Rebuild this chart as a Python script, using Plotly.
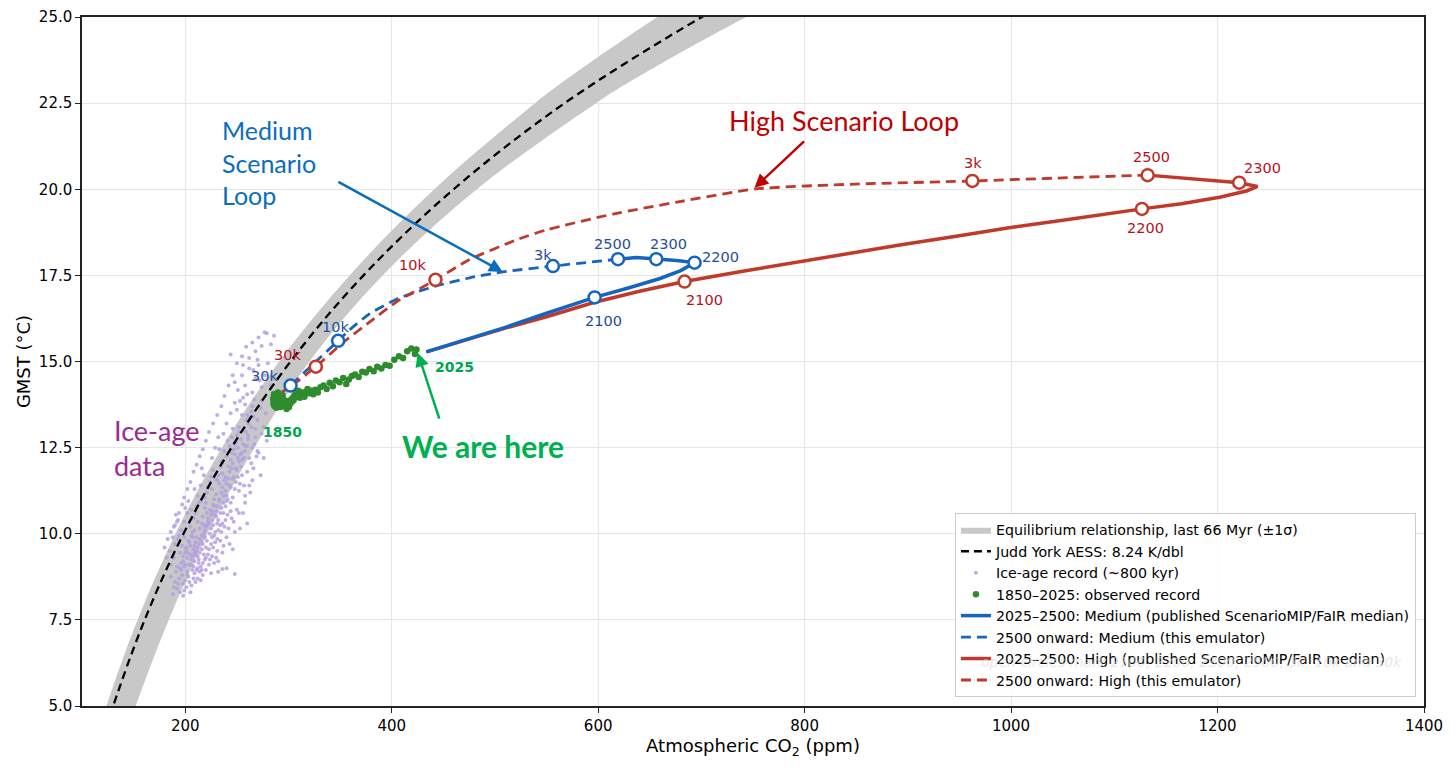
import plotly.graph_objects as go

# ---- data ----
# equilibrium band (last 66 Myr, +-1 sigma): CO2 at left/right edge for each GMST level
band_t = [4, 5, 7.5, 10, 12.5, 15, 17.5, 20, 22.5, 23.25, 25, 26]
band_lo_co2 = [113.7, 123.7, 153.8, 190.5, 235.5, 290.9, 359.2, 441.3, 538.8, 572, 657.5, 712]
band_hi_co2 = [141.0, 152.1, 184.0, 221.6, 267.0, 320.3, 391.2, 482.5, 597.9, 638, 743.5, 812.7]

# Judd York AESS, 8.24 K per doubling
jy_co2 = [119.8, 130.2, 160.7, 198.3, 244.8, 302.0, 372.7, 460.0, 567.6, 700.4, 762]
jy_t = [4, 5, 7.5, 10, 12.5, 15, 17.5, 20, 22.5, 25, 26]

# ice-age record (~800 kyr), (CO2 ppm, GMST)
ice_age = [
    (188, 8.25), (192, 8.4), (195, 8.3), (198, 8.55), (201, 8.45), (190, 8.6), (194, 8.7), (197, 8.8),
    (200, 8.65), (203, 8.75), (206, 8.5), (209, 8.85), (212, 8.7), (191, 8.9), (196, 8.95), (199, 8.35),
    (204, 8.6), (207, 8.95), (210, 8.6), (214, 8.9), (217, 8.8), (220, 8.95), (186, 8.75), (193, 8.55),
    (202, 8.9), (205, 8.3), (208, 8.7), (211, 8.95), (215, 8.65), (198, 8.2), (236, 8.98), (248, 8.83),
    (240, 9.0), (225, 8.85), (189, 8.45),
    (186, 9.1), (189, 9.3), (192, 9.05), (195, 9.45), (198, 9.2), (201, 9.6), (204, 9.1), (207, 9.35),
    (210, 9.75), (213, 9.25), (216, 9.55), (219, 9.9), (222, 9.4), (225, 9.7), (228, 9.95), (231, 9.5),
    (234, 9.8), (237, 9.65), (240, 9.9), (190, 9.7), (193, 9.85), (196, 9.15), (199, 9.9), (202, 9.3),
    (205, 9.65), (208, 9.05), (211, 9.5), (214, 9.85), (217, 9.15), (220, 9.6), (223, 9.1), (226, 9.35),
    (229, 9.75), (232, 9.2), (203, 9.8), (206, 9.95), (209, 9.2), (212, 9.6), (215, 9.05), (218, 9.4),
    (221, 9.8), (224, 9.25), (200, 9.45), (197, 9.65), (194, 9.95), (211, 9.9), (214, 9.45), (217, 9.7),
    (205, 9.4), (208, 9.55), (200, 9.1), (226, 9.9), (230, 9.3), (236, 9.45), (243, 9.7), (246, 9.55),
    (185, 9.5), (188, 9.9), (212, 9.0), (219, 9.25), (180, 9.6), (183, 9.85), (182, 9.3),
    (196, 10.1), (199, 10.35), (202, 10.6), (205, 10.2), (208, 10.45), (211, 10.8), (214, 10.15),
    (217, 10.5), (220, 10.9), (223, 10.3), (226, 10.65), (229, 10.05), (232, 10.4), (235, 10.75),
    (238, 10.2), (241, 10.55), (244, 10.9), (247, 10.35), (250, 10.7), (253, 10.15), (203, 10.95),
    (206, 10.7), (209, 10.1), (212, 10.35), (215, 10.95), (218, 10.25), (221, 10.6), (224, 10.0),
    (227, 10.85), (230, 10.5), (233, 10.95), (236, 10.3), (239, 10.8), (242, 10.15), (245, 10.45),
    (210, 10.6), (213, 10.9), (216, 10.3), (219, 10.75), (222, 10.45), (225, 10.15), (228, 10.55),
    (231, 10.8), (234, 10.25), (237, 10.6), (200, 10.75), (207, 10.05), (220, 10.2), (226, 10.4),
    (232, 10.1), (240, 10.95), (248, 10.05), (252, 10.6), (193, 10.4), (190, 10.25),
    (212, 11.1), (215, 11.4), (218, 11.7), (221, 11.2), (224, 11.5), (227, 11.85), (230, 11.15),
    (233, 11.45), (236, 11.75), (239, 11.25), (242, 11.6), (245, 11.9), (248, 11.3), (251, 11.65),
    (254, 11.95), (257, 11.4), (260, 11.8), (263, 11.2), (216, 11.9), (219, 11.05), (222, 11.35),
    (225, 11.65), (228, 11.0), (231, 11.55), (234, 11.95), (237, 11.1), (240, 11.45), (243, 11.8),
    (246, 11.05), (249, 11.5), (252, 11.25), (255, 11.7), (226, 11.3), (232, 11.7), (238, 11.55),
    (244, 11.35), (250, 11.85), (235, 11.2), (241, 11.0), (247, 11.65), (209, 11.3), (258, 11.1),
    (265, 11.55), (229, 11.6), (253, 11.45),
    (226, 12.2), (229, 12.5), (232, 12.8), (235, 12.1), (238, 12.4), (241, 12.7), (244, 12.15),
    (247, 12.45), (250, 12.85), (253, 12.3), (256, 12.6), (259, 12.95), (262, 12.2), (265, 12.5),
    (268, 12.8), (271, 12.35), (274, 12.9), (237, 12.9), (240, 12.25), (243, 12.55), (246, 12.05),
    (249, 12.65), (252, 12.95), (255, 12.15), (258, 12.4), (261, 12.75), (264, 12.05), (267, 12.6),
    (269, 12.24), (245, 12.8), (251, 12.5), (257, 12.2), (233, 12.45), (260, 12.55), (248, 12.3),
    (240, 13.2), (244, 13.5), (248, 13.8), (252, 13.1), (255, 13.45), (258, 13.75), (261, 13.2),
    (264, 13.55), (267, 13.9), (270, 13.3), (273, 13.65), (276, 13.1), (250, 13.6), (256, 13.95),
    (262, 13.35), (268, 13.05), (274, 13.85), (246, 13.05), (259, 13.3), (265, 13.7), (278, 13.5),
    (253, 13.85),
    (248, 14.4), (251, 14.17), (255, 14.6), (258, 14.3), (262, 14.8), (265, 14.1), (268, 14.5),
    (271, 14.9), (274, 14.25), (277, 14.6), (280, 14.95), (260, 14.05), (266, 14.75), (272, 14.45),
    (283, 14.3), (256, 14.9),
    (255, 15.15), (259, 15.43), (262, 15.1), (265, 15.55), (268, 15.3), (271, 15.7), (274, 15.45),
    (277, 15.85), (279, 15.82), (283, 15.5), (270, 15.05), (286, 15.75),
    # second pass over the dense part of the cloud
    (189, 10.2), (192, 10.35), (186, 10.05), (194, 10.6), (197, 10.85), (191, 10.55), (199, 11.05),
    (202, 11.3), (205, 11.5), (208, 11.8), (211, 12.0), (214, 12.25), (217, 12.45), (220, 12.7),
    (223, 12.95), (227, 13.2), (231, 13.45), (235, 13.7), (238, 14.0), (242, 14.3), (246, 14.6),
    (250, 14.95), (244, 15.2), (258, 10.9), (262, 11.4), (266, 11.9), (270, 12.4), (273, 11.7),
    (276, 12.2), (279, 12.7), (256, 10.6), (260, 10.3),
    (198, 9.35), (201, 9.55), (204, 9.75), (207, 9.9), (210, 9.4), (213, 9.7), (216, 9.95), (219, 10.1),
    (222, 10.35), (225, 10.55), (228, 10.8), (231, 10.3), (234, 10.6), (237, 10.9), (240, 11.1),
    (243, 11.4), (246, 11.6), (249, 11.9), (252, 12.1), (255, 12.35), (258, 12.55), (261, 12.85),
    (264, 13.1), (266, 13.4), (203, 9.45), (206, 9.25), (209, 9.65), (212, 9.35), (215, 9.8),
    (218, 10.0), (221, 10.25), (224, 10.7), (227, 10.25), (230, 10.65), (233, 11.0), (236, 11.35),
    (239, 11.65), (242, 11.95), (245, 12.35), (248, 12.6), (251, 12.2), (254, 12.75), (257, 13.05),
    (260, 13.45), (195, 9.0), (199, 9.05), (202, 8.8), (206, 9.1), (209, 9.45), (213, 9.15), (216, 8.95),
    (220, 9.3), (223, 9.55), (227, 9.6), (231, 9.85), (235, 10.05), (239, 10.4), (244, 10.65),
    (232, 8.9), (228, 9.15),
]
ice_co2 = [p[0] for p in ice_age]
ice_t = [p[1] for p in ice_age]

# observed record 1850-2025
obs_co2 = [
    285.2, 285.5, 285.8, 286.0, 286.3, 286.6, 287.0, 287.4, 287.8, 288.3, 288.8, 289.3, 289.8, 290.3,
    290.8, 291.3, 291.8, 292.3, 292.8, 293.3, 293.8, 294.3, 294.8, 295.3, 295.8, 296.3,
    296.8, 297.5, 298.2, 299.0, 299.8, 300.5, 301.2, 302.0, 302.8, 303.5, 304.3, 305.0, 305.8, 306.6,
    307.3, 308.0, 308.7, 309.3, 309.9, 310.4, 310.8, 311.0, 311.3, 311.8, 312.4,
    313.0, 314.2, 315.5, 317.0, 318.5, 320.0, 322.0, 324.0, 326.0, 328.5, 331.0, 334.0, 337.0, 340.0,
    343.0, 346.0, 349.5, 353.0, 356.0, 358.5, 361.5, 364.5, 368.0, 371.5, 375.0, 378.5, 382.5, 386.0,
    390.0, 394.0, 398.0, 402.5, 407.0, 411.0, 415.0, 419.0, 422.5, 424.0,
]
obs_t = [
    13.92, 13.80, 13.75, 14.05, 13.88, 13.70, 13.95, 13.83, 13.98, 13.66, 13.78, 13.90, 14.10, 13.86,
    13.72, 13.94, 13.81, 13.68, 13.76, 13.85, 13.95, 14.02, 13.74, 13.71, 13.88, 13.79,
    13.72, 13.80, 13.62, 13.70, 13.85, 13.68, 13.76, 13.80, 13.90, 13.84, 13.95, 13.88, 14.02, 13.96,
    14.05, 13.98, 14.10, 14.15, 14.08, 14.00, 14.12, 13.95, 14.05, 14.02, 13.98,
    14.05, 14.10, 13.98, 14.12, 14.20, 14.08, 14.15, 14.05, 14.18, 14.10, 14.25, 14.30, 14.20, 14.38,
    14.28, 14.45, 14.40, 14.52, 14.35, 14.48, 14.58, 14.62, 14.55, 14.70, 14.68, 14.78, 14.72, 14.85,
    14.80, 14.90, 14.88, 15.05, 15.15, 15.10, 15.30, 15.38, 15.22, 15.35,
]

# Medium scenario
med_pub_co2 = [433.6, 470, 510, 550, 596.6, 630, 660, 680, 693.4, 676, 656.3, 637, 619.2]
med_pub_t = [15.28, 15.62, 15.99, 16.4, 16.86, 17.14, 17.41, 17.64, 17.87, 17.93, 17.97, 18.02, 17.97]
med_emu_co2 = [619.2, 556.2, 507.6, 475.6, 441.7, 407.8, 378.8, 359.4, 348.1, 324.9, 302.0, 297.5]
med_emu_t = [17.97, 17.77, 17.60, 17.43, 17.18, 16.85, 16.39, 15.92, 15.60, 14.95, 14.30, 14.17]
med_mile_co2 = [596.6, 693.4, 656.3, 619.2, 556.2, 348.1, 302.0]
med_mile_t = [16.86, 17.87, 17.97, 17.97, 17.77, 15.60, 14.30]

# High scenario
high_pub_co2 = [433.6, 470, 510, 550, 596.6, 640, 683.7, 740, 795, 850, 892, 950, 998, 1050, 1086,
                1126.8, 1165, 1202, 1228, 1238.7, 1221, 1180, 1150, 1132.3]
high_pub_t = [15.28, 15.62, 15.97, 16.3, 16.72, 17.04, 17.32, 17.62, 17.9, 18.17, 18.38, 18.65, 18.88,
              19.1, 19.26, 19.43, 19.58, 19.77, 19.95, 20.08, 20.19, 20.3, 20.36, 20.41]
high_emu_co2 = [1132.3, 1050, 962.5, 849.3, 753.1, 678.9, 614.3, 549.9, 520.8, 475.6, 442.4, 405.1,
                378.8, 354.6, 326.5, 309.1, 293.6]
high_emu_t = [20.41, 20.33, 20.24, 20.15, 20.01, 19.64, 19.28, 18.82, 18.53, 17.96, 17.37, 16.74,
              16.15, 15.59, 14.85, 14.43, 14.11]
high_mile_co2 = [683.7, 1126.8, 1221, 1132.3, 962.5, 442.4, 326.5]
high_mile_t = [17.32, 19.43, 20.19, 20.41, 20.24, 17.37, 14.85]

mile_labels = ["2100", "2200", "2300", "2500", "3k", "10k", "30k"]

BLUE = "#1565c0"
RED = "#c0392b"
BLUE_TXT = "#1f4e9a"
RED_TXT = "#b5121b"
FONT = "DejaVu Sans"
CALLOUT = "Lato"

fig = go.Figure()

fig.add_trace(go.Scatter(
    x=band_lo_co2 + band_hi_co2[::-1], y=band_t + band_t[::-1], mode="lines", fill="toself",
    fillcolor="#c8c8c8", line=dict(width=0, shape="spline", smoothing=1.0),
    name="Equilibrium relationship, last 66 Myr (\u00b11\u03c3)", hoverinfo="skip", legendrank=1))
fig.add_trace(go.Scatter(
    x=ice_co2, y=ice_t, mode="markers", marker=dict(size=4, color="#b3a0df", opacity=0.85),
    name="Ice-age record (~800 kyr)", legendrank=3))
fig.add_trace(go.Scatter(
    x=jy_co2, y=jy_t, mode="lines", line=dict(color="black", width=2.3, dash="8px,5px", shape="spline"),
    name="Judd York AESS: 8.24 K/dbl", legendrank=2))
fig.add_trace(go.Scatter(
    x=obs_co2, y=obs_t, mode="markers", marker=dict(size=6.5, color="#2e8b2e"),
    name="1850\u20132025: observed record", legendrank=4))
fig.add_trace(go.Scatter(
    x=high_pub_co2, y=high_pub_t, mode="lines", line=dict(color=RED, width=3.5),
    name="2025\u20132500: High (published ScenarioMIP/FaIR median)", legendrank=7))
fig.add_trace(go.Scatter(
    x=med_pub_co2, y=med_pub_t, mode="lines", line=dict(color=BLUE, width=3.5),
    name="2025\u20132500: Medium (published ScenarioMIP/FaIR median)", legendrank=5))
fig.add_trace(go.Scatter(
    x=med_emu_co2, y=med_emu_t, mode="lines",
    line=dict(color=BLUE, width=2.8, dash="10px,6px", shape="spline", smoothing=0.6),
    name="2500 onward: Medium (this emulator)", legendrank=6))
fig.add_trace(go.Scatter(
    x=high_emu_co2, y=high_emu_t, mode="lines",
    line=dict(color=RED, width=2.8, dash="10px,6px", shape="spline", smoothing=0.6),
    name="2500 onward: High (this emulator)", legendrank=8))

for mx, my, col in [(med_mile_co2, med_mile_t, BLUE), (high_mile_co2, high_mile_t, RED)]:
    fig.add_trace(go.Scatter(
        x=mx, y=my, mode="markers", showlegend=False, hoverinfo="skip",
        marker=dict(size=12, color="white", line=dict(color=col, width=2.5))))

# milestone labels, offset in pixels from their circles
med_shift = [(9, -24), (26, 6), (12, 15), (-5, 15), (-10, 11), (-3, 14), (-26, 10)]
high_shift = [(20, -18), (4, -19), (23, 15), (4, 18), (1, 18), (-23, 15), (-28, 12)]
for mx, my, shifts, col in [(med_mile_co2, med_mile_t, med_shift, BLUE_TXT),
                            (high_mile_co2, high_mile_t, high_shift, RED_TXT)]:
    for x, y, lab, (dx, dy) in zip(mx, my, mile_labels, shifts):
        fig.add_annotation(x=x, y=y, text=lab, showarrow=False, xshift=dx, yshift=dy,
                           font=dict(family=FONT, size=14.5, color=col))

# call-outs
fig.add_annotation(x=233.6, y=22.2, text="Medium<br>Scenario<br>Loop", showarrow=False, xanchor="left",
                   yanchor="top", align="left", font=dict(family=CALLOUT, size=25, color="#0a6ebd"))
fig.add_annotation(x=507.6, y=17.6, ax=346.9, ay=20.24, axref="x", ayref="y", text="", showarrow=True,
                   arrowhead=2, arrowsize=1.1, arrowwidth=2.5, arrowcolor="#0a6ebd")
fig.add_annotation(x=837.7, y=22.01, text="High Scenario Loop", showarrow=False,
                   font=dict(family=CALLOUT, size=27, color="#c00000"))
fig.add_annotation(x=751.5, y=20.04, ax=800.9, ay=21.43, axref="x", ayref="y", text="", showarrow=True,
                   arrowhead=2, arrowsize=1.1, arrowwidth=2.5, arrowcolor="#c00000")
fig.add_annotation(x=129, y=12.49, text="Ice-age<br>data", showarrow=False, xanchor="left", align="left",
                   font=dict(family=CALLOUT, size=27, color="#9b2a8f"))
fig.add_annotation(x=488, y=12.55, text="<b>We are here</b>", showarrow=False,
                   font=dict(family=CALLOUT, size=30, color="#00b050"))
fig.add_annotation(x=425.3, y=15.25, ax=446.6, ay=13.3, axref="x", ayref="y", text="", showarrow=True,
                   arrowhead=2, arrowsize=1.1, arrowwidth=2.5, arrowcolor="#00b050")
fig.add_annotation(x=294.6, y=12.95, text="<b>1850</b>", showarrow=False,
                   font=dict(family=FONT, size=14, color="#00a64f"))
fig.add_annotation(x=461, y=14.84, text="<b>2025</b>", showarrow=False,
                   font=dict(family=FONT, size=14, color="#00a64f"))
fig.add_annotation(x=0.985, y=0.049, xref="paper", yref="paper", xanchor="right",
                   text="<i>open circles mark 2100, 2200, 2300, 2500, 3k, 10k and 30k</i>", showarrow=False,
                   font=dict(family=FONT, size=14, color="rgba(215,215,215,0.6)"))

axis = dict(showline=True, linecolor="#222222", linewidth=1.5, mirror=True, ticks="outside", ticklen=5,
            tickcolor="#222222", showgrid=True, gridcolor="#e6e6e6", gridwidth=1, zeroline=False,
            automargin=False, tickfont=dict(family=FONT, size=15, color="black"))

# page body adds an 8px margin, so the figure is 16px smaller than the window
fig.update_layout(
    width=1440, height=754, margin=dict(l=74, r=24, t=9, b=56),
    plot_bgcolor="white", paper_bgcolor="white",
    font=dict(family=FONT, color="black"),
    xaxis=dict(axis, range=[100, 1400], tickvals=[200, 400, 600, 800, 1000, 1200, 1400],
               title=dict(text="Atmospheric CO<sub>2</sub> (ppm)", font=dict(family=FONT, size=18), standoff=6)),
    yaxis=dict(axis, range=[5, 25], tickvals=[5, 7.5, 10, 12.5, 15, 17.5, 20, 22.5, 25], tickformat=".1f",
               title=dict(text="GMST (\u00b0C)", font=dict(family=FONT, size=18), standoff=4)),
    legend=dict(x=0.994, y=0.013, xanchor="right", yanchor="bottom", bgcolor="rgba(255,255,255,0.85)",
                bordercolor="#cccccc", borderwidth=1, font=dict(family=FONT, size=14.2), tracegroupgap=0,
                itemwidth=30),
    showlegend=True,
)

fig.write_html("out.html")
